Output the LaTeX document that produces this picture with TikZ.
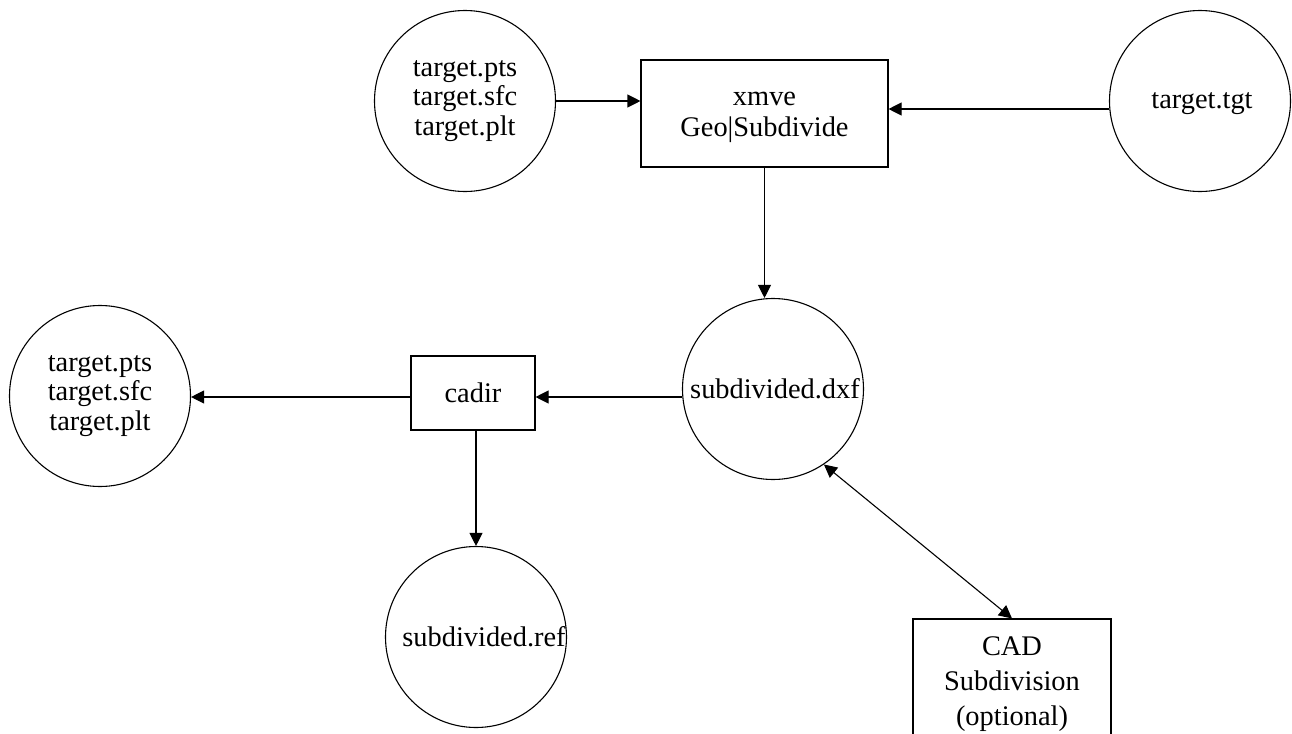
\documentclass[tikz,border=0pt]{standalone}
\usepackage{fontspec}
\setmainfont{Liberation Serif}
\usetikzlibrary{arrows.meta}
\begin{document}
\begin{tikzpicture}[x=0.5pt,y=-0.5pt,
  every node/.style={font=\fontsize{14.2}{14.8}\selectfont, align=center, inner sep=0pt},
  disk/.style={draw, circle, minimum size=90.5pt, line width=0.55pt},
  proc/.style={draw, rectangle, line width=0.55pt},
  tip/.tip={Triangle[length=6.5pt,width=6.5pt]},
  flow/.style={-tip, line width=0.55pt},
  both/.style={tip-tip, line width=0.55pt},
]
\useasboundingbox (0,0) rectangle (1292,734);
\begin{scope}
\clip (0,0) rectangle (1292,734);

% data files
\node[disk] (src) at (465,101) {target.pts\\target.sfc\\target.plt};
\node[disk] (tgt) at (1200,101) {};
\node (tgttext) at ([xshift=1pt,yshift=-1.5pt]tgt.center) {target.tgt};
\node[disk] (dxf) at (773,389) {};
\node (dxftext) at ([xshift=1pt]dxf.center) {subdivided.dxf};
\node[disk] (out) at (100,396) {target.pts\\target.sfc\\target.plt};
\node[disk] (ref) at (476,637) {};
\node (reftext) at ([xshift=4pt]ref.center) {subdivided.ref};

% processing steps
\node[proc, minimum width=123.5pt, minimum height=53.5pt] (xmve) at (764.5,113.5) {};
\node[font=\fontsize{14.2}{15.8}\selectfont] (xmvetext) at ([yshift=-2pt]xmve.center) {xmve\\Geo|Subdivide};
\node[proc, minimum width=62pt, minimum height=37pt] (cadir) at (473,393) {cadir};
\node[proc, minimum width=99pt, minimum height=65.5pt,
      font=\fontsize{14.2}{17.5}\selectfont] (cad) at (1012,684.5) {CAD\\Subdivision\\(optional)};

% connectors
\draw[flow] (src.east) -- (src.east -| xmve.west);
\draw[flow] ([yshift=-4pt]tgt.west) -- ([yshift=-4pt]tgt.west -| xmve.east);
\draw[flow] (xmve.south) -- (xmve.south |- dxf.north);
\draw[flow] ([yshift=-4pt]dxf.west) -- ([yshift=-4pt]dxf.west -| cadir.east);
\draw[flow] ([yshift=-2pt]cadir.west) -- ([yshift=-2pt]cadir.west -| out.east);
\draw[flow] ([xshift=1.5pt]cadir.south) -- ([xshift=1.5pt]cadir.south |- ref.north);
\draw[both] (dxf.-56.3) -- (cad.north);
\end{scope}
\end{tikzpicture}
\end{document}
